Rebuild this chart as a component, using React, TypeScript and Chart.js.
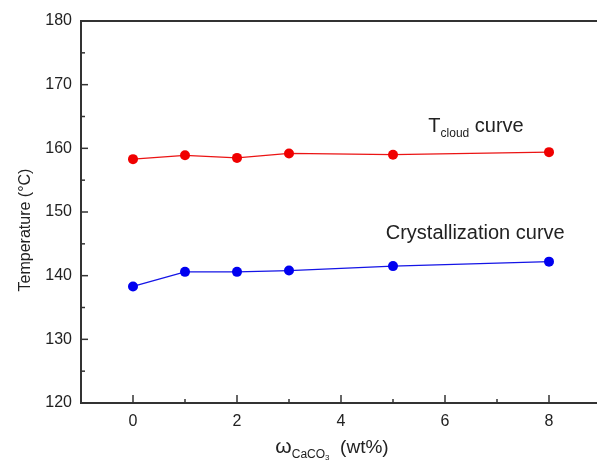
import React, { useEffect, useRef } from "react";
import { Chart, registerables } from "chart.js";

Chart.register(...registerables);

const xValues = [0, 1, 2, 3, 5, 8];
const cloudTemps = [158.3, 158.9, 158.5, 159.2, 159.0, 159.4];
const crystTemps = [138.3, 140.6, 140.6, 140.8, 141.5, 142.2];
const xMajorTicks = [0, 2, 4, 6, 8];
const xMinorTicks = [-1, 1, 3, 5, 7];
const yMajorTicks = [120, 130, 140, 150, 160, 170, 180];
const yMinorTicks = [125, 135, 145, 155, 165, 175];

const FONT = "'Liberation Sans', Arial, sans-serif";
const TEXT = "#222";
const AXIS = "#333";

const decorPlugin = {
  id: "decor",
  afterDraw(chart: any) {
    const ctx = chart.ctx as CanvasRenderingContext2D;
    const { left, right, top, bottom } = chart.chartArea;
    const xs = chart.scales.x;
    const ys = chart.scales.y;
    ctx.save();
    // top border
    ctx.strokeStyle = AXIS;
    ctx.lineWidth = 2;
    ctx.beginPath();
    ctx.moveTo(left - 1, top);
    ctx.lineTo(right + 5, top);
    ctx.stroke();
    // inward ticks
    ctx.lineWidth = 1.5;
    const tick = (x1: number, y1: number, x2: number, y2: number) => {
      ctx.beginPath();
      ctx.moveTo(x1, y1);
      ctx.lineTo(x2, y2);
      ctx.stroke();
    };
    xMajorTicks.forEach((v) => {
      const px = xs.getPixelForValue(v);
      tick(px, bottom, px, bottom - 8);
    });
    xMinorTicks.forEach((v) => {
      const px = xs.getPixelForValue(v);
      if (px > left + 2) tick(px, bottom, px, bottom - 4);
    });
    yMajorTicks.forEach((v) => {
      const py = ys.getPixelForValue(v);
      tick(left, py, left + 7, py);
    });
    yMinorTicks.forEach((v) => {
      const py = ys.getPixelForValue(v);
      tick(left, py, left + 4, py);
    });

    ctx.fillStyle = TEXT;
    ctx.textBaseline = "alphabetic";
    // y title
    ctx.save();
    ctx.translate(30, 230);
    ctx.rotate(-Math.PI / 2);
    ctx.font = `16px ${FONT}`;
    ctx.textAlign = "center";
    ctx.fillText("Temperature (°C)", 0, 0);
    ctx.restore();

    // x title with subscript
    ctx.textAlign = "left";
    const parts: [string, number, number][] = [
      ["ω", 21, 0],
      ["CaCO", 12, 5],
      ["3", 8, 7],
      ["  (wt%)", 19, 0],
    ];
    let total = 0;
    parts.forEach(([t, s]) => {
      ctx.font = `${s}px ${FONT}`;
      total += ctx.measureText(t).width;
    });
    let cx = 332 - total / 2;
    parts.forEach(([t, s, dy]) => {
      ctx.font = `${s}px ${FONT}`;
      ctx.fillText(t, cx, 453 + dy);
      cx += ctx.measureText(t).width;
    });

    // annotations
    const tx = xs.getPixelForValue(5.68);
    const tY = ys.getPixelForValue(162.6);
    ctx.font = `20px ${FONT}`;
    ctx.fillText("T", tx, tY);
    let ax = tx + ctx.measureText("T").width;
    ctx.font = `12px ${FONT}`;
    ctx.fillText("cloud", ax, tY + 5);
    ax += ctx.measureText("cloud").width;
    ctx.font = `20px ${FONT}`;
    ctx.fillText(" curve", ax, tY);

    const cxp = xs.getPixelForValue(4.86);
    const cyp = ys.getPixelForValue(145.7);
    ctx.fillText("Crystallization curve", cxp, cyp);
    ctx.restore();
  },
};

export default function App() {
  const ref = useRef<HTMLCanvasElement>(null);
  useEffect(() => {
    if (!ref.current) return;
    const chart = new Chart(ref.current, {
      type: "line",
      data: {
        datasets: [
          {
            label: "Tcloud curve",
            data: xValues.map((x, i) => ({ x, y: cloudTemps[i] })),
            borderColor: "rgb(235,20,20)",
            backgroundColor: "rgb(240,0,0)",
            borderWidth: 1.3,
            pointRadius: 5,
            pointBorderWidth: 0,
          },
          {
            label: "Crystallization curve",
            data: xValues.map((x, i) => ({ x, y: crystTemps[i] })),
            borderColor: "rgb(20,20,230)",
            backgroundColor: "rgb(0,0,240)",
            borderWidth: 1.3,
            pointRadius: 5,
            pointBorderWidth: 0,
          },
        ],
      },
      options: {
        animation: false,
        responsive: false,
        maintainAspectRatio: false,
        layout: { padding: { top: 21, right: 0, left: 0, bottom: 0 } },
        plugins: { legend: { display: false }, tooltip: { enabled: false } },
        scales: {
          x: {
            type: "linear",
            min: -1,
            max: 9,
            afterFit: (s: any) => {
              s.height = 63;
              s.paddingLeft = 0;
              s.paddingRight = 0;
            },
            grid: { display: false, drawTicks: false },
            border: { display: true, color: AXIS, width: 2 },
            ticks: {
              stepSize: 1,
              autoSkip: false,
              maxRotation: 0,
              padding: 9,
              color: TEXT,
              font: { family: FONT, size: 16 },
              callback: (v: any) => (xMajorTicks.includes(Number(v)) ? String(v) : ""),
            },
          },
          y: {
            type: "linear",
            min: 120,
            max: 180,
            afterFit: (s: any) => {
              s.width = 81;
              s.paddingTop = 0;
              s.paddingBottom = 0;
            },
            grid: { display: false, drawTicks: false },
            border: { display: true, color: AXIS, width: 2 },
            ticks: {
              stepSize: 5,
              autoSkip: false,
              padding: 9,
              color: TEXT,
              font: { family: FONT, size: 16 },
              callback: (v: any) => (yMajorTicks.includes(Number(v)) ? String(v) : ""),
            },
          },
        },
      },
      plugins: [decorPlugin],
    } as any);
    return () => chart.destroy();
  }, []);
  return (
    <div
      style={{
        position: "fixed",
        left: 0,
        top: 0,
        width: 597,
        height: 466,
        overflow: "hidden",
        background: "#fff",
      }}
    >
      <canvas ref={ref} width={606} height={466} style={{ width: 606, height: 466 }} />
    </div>
  );
}
